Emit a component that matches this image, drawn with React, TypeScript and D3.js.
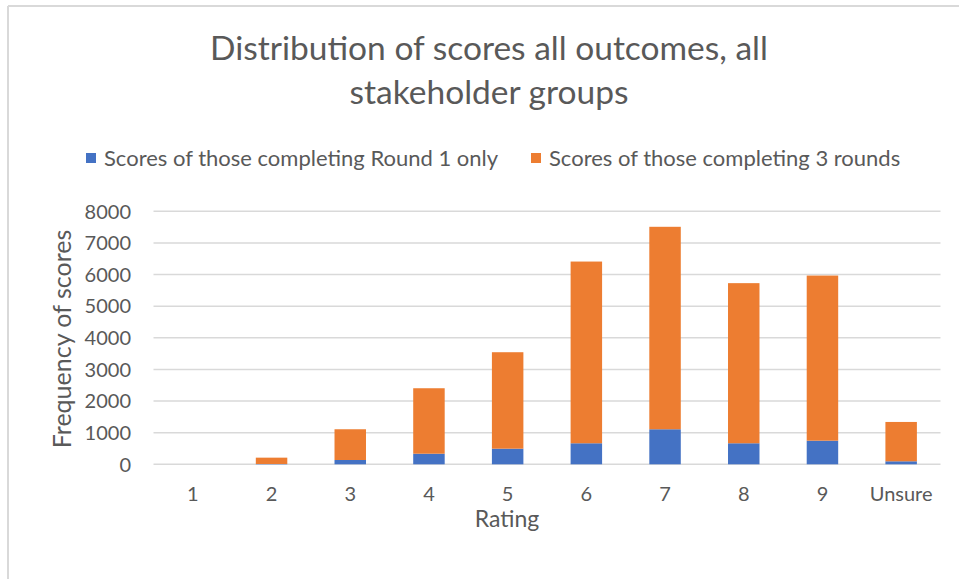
import * as d3 from 'd3';
import React, { useEffect, useRef } from 'react';

const categories = ['1', '2', '3', '4', '5', '6', '7', '8', '9', 'Unsure'];
const round1Only = [0, 10, 136, 335, 494, 665, 1108, 665, 747, 95];
const threeRounds = [0, 200, 972, 2070, 3050, 5746, 6402, 5063, 5221, 1244];
const yTicks = [0, 1000, 2000, 3000, 4000, 5000, 6000, 7000, 8000];
const seriesNames = ['Scores of those completing Round 1 only', 'Scores of those completing 3 rounds'];
const titleLines = ['Distribution of scores all outcomes, all', 'stakeholder groups'];

const W = 959;
const H = 579;
const FONT = 'Lato, "Open Sans", sans-serif';
const TEXT = '#595959';

const App: React.FC = () => {
  const svgRef = useRef<SVGSVGElement>(null);

  useEffect(() => {
    const svg = d3.select(svgRef.current);
    svg.selectAll('*').remove();

    const left = 153.5;
    const right = 940.5;
    const top = 211.3;
    const bottom = 464.3;

    // chart frame (only top and left edges are inside the crop)
    svg.append('line').attr('x1', 8).attr('x2', W).attr('y1', 6).attr('y2', 6)
      .attr('stroke', '#d9d9d9').attr('stroke-width', 2);
    svg.append('line').attr('x1', 8).attr('x2', 8).attr('y1', 6).attr('y2', H)
      .attr('stroke', '#d9d9d9').attr('stroke-width', 2);

    // title
    svg.append('text')
      .attr('text-anchor', 'middle')
      .attr('font-family', FONT)
      .attr('font-size', 33.5)
      .attr('fill', TEXT)
      .selectAll('tspan')
      .data(titleLines)
      .enter()
      .append('tspan')
      .attr('x', 489)
      .attr('y', (_d, i) => 60 + i * 44)
      .text((d) => d);

    const x = d3.scaleBand<string>().domain(categories).range([left, right]).paddingInner(0.6).paddingOuter(0.3);
    const y = d3.scaleLinear().domain([0, 8000]).range([bottom, top]);

    // gridlines
    svg.append('g')
      .selectAll('line')
      .data(yTicks)
      .enter()
      .append('line')
      .attr('x1', left)
      .attr('x2', right)
      .attr('y1', (d) => y(d))
      .attr('y2', (d) => y(d))
      .attr('stroke', '#d9d9d9')
      .attr('stroke-width', 1.5);

    // y tick labels
    svg.append('g')
      .selectAll('text')
      .data(yTicks)
      .enter()
      .append('text')
      .attr('x', 131)
      .attr('y', (d) => y(d))
      .attr('dy', '0.36em')
      .attr('text-anchor', 'end')
      .attr('font-family', FONT)
      .attr('font-size', 20)
      .attr('fill', TEXT)
      .text((d) => d);

    // stacked bars
    const rows = categories.map((c, i) => ({ cat: c, r1: round1Only[i], r3: threeRounds[i] }));
    const stack = d3.stack<any>().keys(['r1', 'r3'])(rows);
    const colors = ['#4472c4', '#ed7d31'];

    svg.append('g')
      .selectAll('g')
      .data(stack)
      .enter()
      .append('g')
      .attr('fill', (_d, i) => colors[i])
      .selectAll('rect')
      .data((d) => d)
      .enter()
      .append('rect')
      .attr('x', (d: any) => x(d.data.cat)!)
      .attr('width', x.bandwidth())
      .attr('y', (d) => y(d[1]))
      .attr('height', (d) => y(d[0]) - y(d[1]));

    // x tick labels
    svg.append('g')
      .selectAll('text')
      .data(categories)
      .enter()
      .append('text')
      .attr('x', (d) => x(d)! + x.bandwidth() / 2)
      .attr('y', 501)
      .attr('text-anchor', 'middle')
      .attr('font-family', FONT)
      .attr('font-size', 20)
      .attr('fill', TEXT)
      .text((d) => d);

    // axis titles
    svg.append('text')
      .attr('x', 507)
      .attr('y', 527)
      .attr('text-anchor', 'middle')
      .attr('font-family', FONT)
      .attr('font-size', 23)
      .attr('fill', TEXT)
      .text('Rating');

    svg.append('text')
      .attr('transform', 'translate(71,339) rotate(-90)')
      .attr('text-anchor', 'middle')
      .attr('font-family', FONT)
      .attr('font-size', 25)
      .attr('fill', TEXT)
      .text('Frequency of scores');

    // legend
    const legendX = [86, 531];
    const legend = svg.append('g')
      .selectAll('g')
      .data(seriesNames)
      .enter()
      .append('g')
      .attr('transform', (_d, i) => `translate(${legendX[i]},153)`);
    legend.append('rect').attr('width', 10).attr('height', 10).attr('fill', (_d, i) => colors[i]);
    legend.append('text')
      .attr('x', 18)
      .attr('y', 5)
      .attr('dy', '0.36em')
      .attr('font-family', FONT)
      .attr('font-size', 22)
      .attr('fill', TEXT)
      .text((d) => d);
  }, []);

  return (
    <svg
      ref={svgRef}
      width={W}
      height={H}
      style={{ position: 'absolute', left: 0, top: 0, background: '#fff' }}
    />
  );
};

export default App;
